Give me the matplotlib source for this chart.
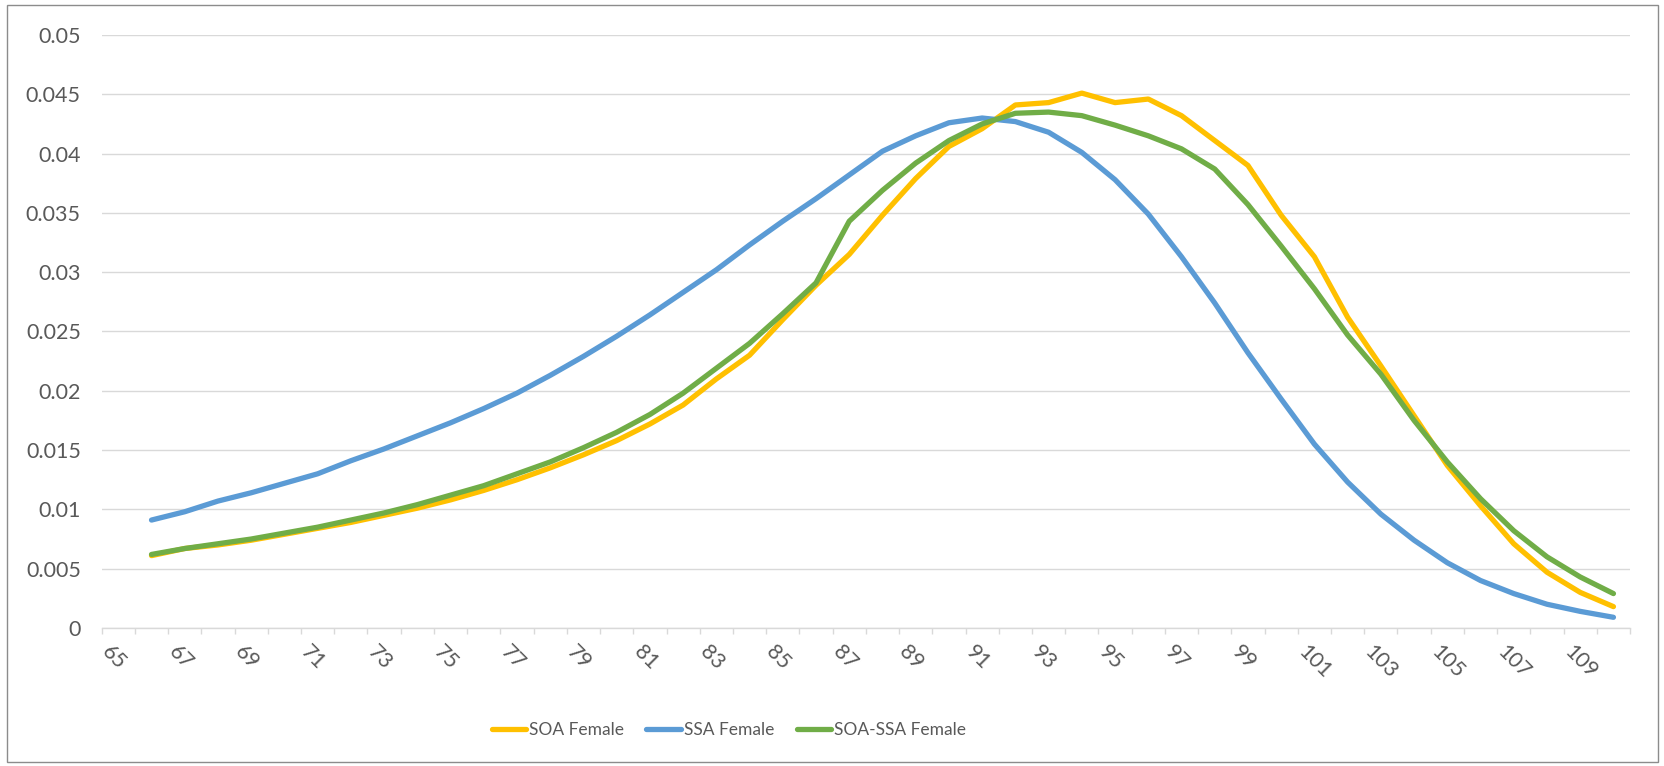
import matplotlib.pyplot as plt
import matplotlib.transforms as mtransforms
from matplotlib.patches import Rectangle

ages = list(range(66, 111))
soa_female = [0.0061, 0.0067, 0.0070, 0.0074, 0.0079, 0.0084, 0.0089, 0.0095, 0.0101, 0.0108,
              0.0116, 0.0125, 0.0135, 0.0146, 0.0158, 0.0172, 0.0188, 0.0210, 0.0230, 0.0260,
              0.0289, 0.0315, 0.0348, 0.0379, 0.0406, 0.0421, 0.0441, 0.0443, 0.0451, 0.0443,
              0.0446, 0.0432, 0.0411, 0.0390, 0.0348, 0.0313, 0.0262, 0.0221, 0.0179, 0.0137,
              0.0103, 0.0071, 0.0047, 0.0030, 0.0018]
ssa_female = [0.0091, 0.0098, 0.0107, 0.0114, 0.0122, 0.0130, 0.0141, 0.0151, 0.0162, 0.0173,
              0.0185, 0.0198, 0.0213, 0.0229, 0.0246, 0.0264, 0.0283, 0.0302, 0.0323, 0.0343,
              0.0362, 0.0382, 0.0402, 0.0415, 0.0426, 0.0430, 0.0427, 0.0418, 0.0401, 0.0378,
              0.0349, 0.0313, 0.0274, 0.0232, 0.0193, 0.0155, 0.0123, 0.0096, 0.0074, 0.0055,
              0.0040, 0.0029, 0.0020, 0.0014, 0.0009]
soa_ssa_female = [0.0062, 0.0067, 0.0071, 0.0075, 0.0080, 0.0085, 0.0091, 0.0097, 0.0104, 0.0112,
                  0.0120, 0.0130, 0.0140, 0.0152, 0.0165, 0.0180, 0.0198, 0.0219, 0.0240, 0.0265,
                  0.0291, 0.0343, 0.0369, 0.0392, 0.0411, 0.0425, 0.0434, 0.0435, 0.0432, 0.0424,
                  0.0415, 0.0404, 0.0387, 0.0357, 0.0322, 0.0286, 0.0247, 0.0214, 0.0175, 0.0140,
                  0.0109, 0.0082, 0.0060, 0.0043, 0.0029]

x_labels = list(range(65, 110, 2))
y_ticks = [0, 0.005, 0.01, 0.015, 0.02, 0.025, 0.03, 0.035, 0.04, 0.045, 0.05]
y_labels = ['0', '0.005', '0.01', '0.015', '0.02', '0.025', '0.03', '0.035', '0.04', '0.045', '0.05']

plt.rcParams['font.family'] = ['Lato', 'DejaVu Sans']
text_color = '#595959'
grid_color = '#d9d9d9'

fig = plt.figure(figsize=(16.64, 7.66), dpi=100)
ax = fig.add_axes([0.0611, 0.1802, 0.9185, 0.7741])

ax.plot(ages, soa_female, color='#FFC000', lw=3.8, label='SOA Female', solid_capstyle='round')
ax.plot(ages, ssa_female, color='#5B9BD5', lw=3.8, label='SSA Female', solid_capstyle='round')
ax.plot(ages, soa_ssa_female, color='#70AD47', lw=3.8, label='SOA-SSA Female', solid_capstyle='round')

ax.set_xlim(64.5, 110.5)
ax.set_ylim(0, 0.05)
ax.set_yticks(y_ticks)
ax.set_yticklabels(y_labels)
ax.set_xticks(x_labels)
ax.set_xticklabels([str(v) for v in x_labels])
ax.set_xticks([64.5 + i for i in range(47)], minor=True)

ax.grid(axis='y', color=grid_color, lw=1.0)
ax.set_axisbelow(True)
for side in ['top', 'right', 'left']:
    ax.spines[side].set_visible(False)
ax.spines['bottom'].set_color(grid_color)
ax.spines['bottom'].set_linewidth(1.0)

ax.tick_params(axis='y', length=0, pad=15, labelsize=15.5, labelcolor=text_color)
ax.tick_params(axis='x', which='major', length=0, pad=10, labelsize=15.5, labelcolor=text_color)
ax.tick_params(axis='x', which='minor', length=4.5, width=1.0, color=grid_color)

offset = mtransforms.ScaledTranslation(-6 / 100, 0, fig.dpi_scale_trans)
for lbl in ax.get_xticklabels():
    lbl.set_rotation(-45)
    lbl.set_ha('left')
    lbl.set_va('top')
    lbl.set_rotation_mode('anchor')
    lbl.set_transform(lbl.get_transform() + offset)

leg = fig.legend(loc='center', bbox_to_anchor=(0.438, 0.047), ncol=3, frameon=False,
                 fontsize=12.5, handlelength=2.0, handletextpad=0.15, columnspacing=1.3)
for t in leg.get_texts():
    t.set_color(text_color)

fig.patches.append(Rectangle((7 / 1664, 4 / 766), 1651 / 1664, 757 / 766, transform=fig.transFigure,
                             fill=False, edgecolor='#8c8c8c', lw=1.0))

fig.savefig('out.png', dpi=100)
